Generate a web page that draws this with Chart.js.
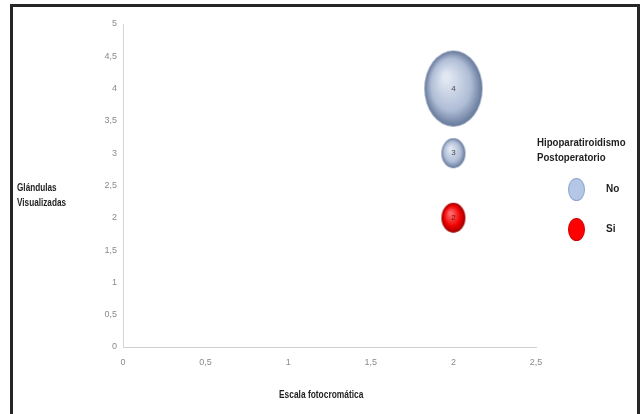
<!DOCTYPE html>
<html>
<head>
<meta charset="utf-8">
<script src="https://cdn.jsdelivr.net/npm/chart.js@4/dist/chart.umd.min.js"></script>
<style>
  html, body { margin: 0; padding: 0; background: #fff; }
  #wrap { position: relative; width: 643px; height: 414px; overflow: hidden; font-family: "Liberation Sans Narrow", "Arial Narrow", "Liberation Sans", Arial, sans-serif; }
  #chart { position: absolute; left: 0; top: 0; }
  #frame { position: absolute; left: 10px; top: 4px; width: 624px; height: 430px; border: 3px solid #262626; border-bottom: none; box-sizing: content-box; }
  .ttl { position: absolute; font-weight: bold; font-size: 10.5px; color: #1f1f1f; line-height: 15px; white-space: nowrap; }
  #ytitle { left: 17px; top: 180px; transform: scaleX(0.78); transform-origin: left top; }
  #xtitle { left: 0; width: 643px; text-align: center; top: 387px; transform: scaleX(0.8); transform-origin: 320px 0; }
  #legend { position: absolute; left: 537px; top: 135px; }
  #legend .head { font-weight: bold; font-size: 10.5px; color: #1f1f1f; line-height: 15px; transform: scaleX(0.92); transform-origin: left top; white-space: nowrap; }
  .item { position: absolute; left: 31px; width: 80px; height: 24px; }
  .item .mk { position: absolute; left: 0; top: 1px; width: 17px; height: 23px; border-radius: 50%; box-sizing: border-box; }
  .item .lb { position: absolute; left: 38px; top: 6px; font-weight: bold; font-size: 10px; color: #1f1f1f; }
</style>
</head>
<body>
<div id="wrap">
  <canvas id="chart" width="643" height="414"></canvas>
  <div id="frame"></div>
  <div id="ytitle" class="ttl">Glándulas<br>Visualizadas</div>
  <div id="xtitle" class="ttl">Escala fotocromática</div>
  <div id="legend"></div>
</div>
<script>
// Series: photochromic scale (x), visualised glands (y), bubble radius in px
const seriesNames = ['No', 'Si'];
const noX = [2, 2];
const noY = [4, 3];
const noSize = [38, 15];
const siX = [2];
const siY = [2];
const siSize = [15];

const legendTitle = ['Hipoparatiroidismo', 'Postoperatorio'];
const xTicks = [0, 0.5, 1, 1.5, 2, 2.5];
const yTicks = [0, 0.5, 1, 1.5, 2, 2.5, 3, 3.5, 4, 4.5, 5];

const palette = {
  No: { light: '#e1e8f3', mid: '#afbdd6', dark: '#65789a', flat: '#b4c7e7', edge: '#8ea6cf' },
  Si: { light: '#ff6a6a', mid: '#f00000', dark: '#9a0000', flat: '#ff0000', edge: '#d00000' }
};

const fmt = v => String(v).replace('.', ',');

// Shaded elliptical sprite used as the bubble point style
const spriteCache = {};
function sprite(name, r) {
  const key = name + r;
  if (spriteCache[key]) return spriteCache[key];
  const c = palette[name];
  const ry = r, rx = Math.round(r * 0.77);
  const cv = document.createElement('canvas');
  cv.width = rx * 2 + 2;
  cv.height = ry * 2 + 2;
  const g = cv.getContext('2d');
  g.save();
  g.translate(cv.width / 2, cv.height / 2);
  g.scale(rx / ry, 1);
  const grd = g.createRadialGradient(-ry * 0.25, -ry * 0.3, ry * 0.1, 0, 0, ry);
  grd.addColorStop(0, c.light);
  grd.addColorStop(0.65, c.mid);
  grd.addColorStop(1, c.dark);
  g.beginPath();
  g.arc(0, 0, ry, 0, Math.PI * 2);
  g.fillStyle = grd;
  g.fill();
  g.restore();
  spriteCache[key] = cv;
  return cv;
}

const build = (xs, ys, rs) => xs.map((x, i) => ({ x, y: ys[i], r: rs[i] }));

// Writes each bubble's value at its centre
const bubbleLabels = {
  id: 'bubbleLabels',
  afterDatasetsDraw(chart) {
    const ctx = chart.ctx;
    ctx.save();
    ctx.font = '8px "Liberation Sans Narrow", "Liberation Sans", sans-serif';
    ctx.textAlign = 'center';
    ctx.textBaseline = 'middle';
    chart.data.datasets.forEach((ds, di) => {
      ctx.fillStyle = di === 1 ? '#7a1010' : '#4a4a4a';
      chart.getDatasetMeta(di).data.forEach((el, i) => {
        ctx.fillText(fmt(ds.data[i].y), el.x, el.y);
      });
    });
    ctx.restore();
  }
};

const tickFont = { family: '"Liberation Sans Narrow", "Liberation Sans", sans-serif', size: 9 };

new Chart(document.getElementById('chart'), {
  type: 'bubble',
  data: {
    datasets: [
      { label: seriesNames[0], data: build(noX, noY, noSize), pointStyle: ctx => sprite('No', ctx.raw.r) },
      { label: seriesNames[1], data: build(siX, siY, siSize), pointStyle: ctx => sprite('Si', ctx.raw.r) }
    ]
  },
  options: {
    responsive: false,
    animation: false,
    events: [],
    layout: { autoPadding: false, padding: { left: 0, top: 24, right: 107, bottom: 0 } },
    plugins: { legend: { display: false }, tooltip: { enabled: false } },
    scales: {
      x: {
        type: 'linear', min: 0, max: 2.5,
        afterBuildTicks: s => { s.ticks = xTicks.map(v => ({ value: v })); },
        afterFit: s => { s.height = 67; },
        grid: { display: false, drawTicks: false },
        border: { display: true, color: '#cfcfcf', width: 1 },
        ticks: { callback: v => fmt(v), color: '#8a8a8a', font: tickFont, padding: 10, maxRotation: 0 }
      },
      y: {
        type: 'linear', min: 0, max: 5,
        afterBuildTicks: s => { s.ticks = yTicks.map(v => ({ value: v })); },
        afterFit: s => { s.width = 123; },
        grid: { display: false, drawTicks: false },
        border: { display: true, color: '#d6d6d6', width: 1 },
        ticks: { callback: v => fmt(v), color: '#8a8a8a', font: tickFont, padding: 6 }
      }
    }
  },
  plugins: [bubbleLabels]
});

// Legend block on the right
const legend = document.getElementById('legend');
legend.innerHTML = '<div class="head">' + legendTitle.join('<br>') + '</div>';
seriesNames.forEach((name, i) => {
  const it = document.createElement('div');
  it.className = 'item';
  it.style.top = (42 + i * 40) + 'px';
  const c = palette[name];
  it.innerHTML = '<div class="mk" style="background:' + c.flat + ';border:1px solid ' + c.edge + '"></div><div class="lb">' + name + '</div>';
  legend.appendChild(it);
});
</script>
</body>
</html>
